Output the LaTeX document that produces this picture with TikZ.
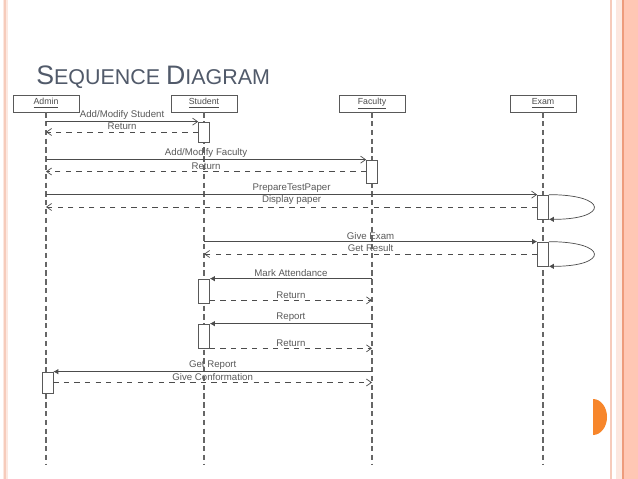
\documentclass[tikz,border=0pt]{standalone}
\usepackage{fontspec}
\setmainfont{Liberation Sans}
\usetikzlibrary{arrows.meta,positioning}
\definecolor{titlegray}{HTML}{515A6A}
\definecolor{framepink}{HTML}{F6CBBB}
\definecolor{framepale}{HTML}{FCE8E0}
\definecolor{framesalmon}{HTML}{FFC7B4}
\definecolor{frameorange}{HTML}{EE9C7C}
\definecolor{dotorange}{HTML}{F7862B}

\begin{document}
\begin{tikzpicture}[
    x=0.02cm, y=-0.02cm,
    participant/.style={draw=black!65, fill=white, minimum width=1.32cm, minimum height=0.34cm, inner sep=0pt, font=\fontsize{5}{6}\selectfont, text=black!70},
    act/.style={draw=black!65, fill=white, minimum width=0.22cm, inner sep=0pt},
    lifeline/.style={densely dashed, black!60, line width=0.6pt},
    call/.style={-{Straight Barb[length=1mm,width=1.4mm]}, black!70, line width=0.4pt},
    callf/.style={-{Latex[length=1mm,width=1.1mm]}, black!70, line width=0.4pt},
    reply/.style={call, dashed},
    lbl/.style={font=\fontsize{5.5}{6}\selectfont, text=black!65, above, inner sep=1pt}
  ]
    \fill[white] (0,0) rectangle (638,479);
    \useasboundingbox (0,0) rectangle (638,479);
    % slide frame
    \fill[framepale] (2.5,0) rectangle (8,479);
    \fill[framepink] (4.3,0) rectangle (6.3,479);
    \fill[framepink] (609.5,0) rectangle (612,479);
    \fill[framepale] (616,0) rectangle (622,479);
    \fill[frameorange] (622,0) rectangle (623.5,479);
    \fill[framesalmon] (623.5,0) rectangle (638,479);
    \fill[dotorange] (593,399) arc[start angle=90, end angle=-90, x radius=14, y radius=-18] -- cycle;

    \node[anchor=base west, inner sep=0pt, text=titlegray] (title) at (36,85)
      {{\fontsize{15.2}{18}\selectfont S}{\fontsize{12.2}{14}\selectfont EQUENCE }{\fontsize{15.2}{18}\selectfont D}{\fontsize{12.2}{14}\selectfont IAGRAM}};

    \node[participant] (admin) at (46,103.5) {\underline{Admin}};
    \node[participant] (student) at (204,103.5) {\underline{Student}};
    \node[participant] (faculty) at (372,103.5) {\underline{Faculty}};
    \node[participant] (exam) at (543,103.5) {\underline{Exam}};

    \foreach \p in {admin,student,faculty,exam}
      \draw[lifeline] (\p.south) -- ++(0,353);

    \node[act, minimum height=0.4cm] (sa1) at (204,132) {};
    \node[act, minimum height=0.46cm] (fa1) at (372,171.5) {};
    \node[act, minimum height=0.48cm] (ea1) at (543,207) {};
    \node[act, minimum height=0.48cm] (ea2) at (543,254) {};
    \node[act, minimum height=0.48cm] (sa2) at (204,291) {};
    \node[act, minimum height=0.48cm] (sa3) at (204,336) {};
    \node[act, minimum height=0.42cm] (aa1) at (47.5,382.5) {};

    \draw[call] (admin |- sa1.north) -- (sa1.north west) node[lbl, midway] {Add/Modify Student};
    \draw[reply] (sa1.west) -- (admin |- sa1.west) node[lbl, midway] {Return};

    \draw[call] (admin |- fa1.north) -- (fa1.north west) node[lbl, midway] {Add/Modify Faculty};
    \draw[reply] (fa1.west) -- (admin |- fa1.west) node[lbl, midway] {Return};

    \draw[call] (admin |- ea1.north) -- (ea1.north west) node[lbl, midway] {PrepareTestPaper};
    \draw[reply] (ea1.west) -- (admin |- ea1.west) node[lbl, midway] {Display paper};
    \draw[callf] (ea1.north east) .. controls +(60,0) and +(60,0) .. (ea1.south east);

    \draw[callf] (student |- ea2.north) -- (ea2.north west) node[lbl, midway] {Give Exam};
    \draw[reply] (ea2.west) -- (student |- ea2.west) node[lbl, midway] {Get Result};
    \draw[callf] (ea2.north east) .. controls +(60,0) and +(60,0) .. (ea2.south east);

    \draw[callf] (faculty |- sa2.north) -- (sa2.north east) node[lbl, midway] {Mark Attendance};
    \coordinate (r2) at ([yshift=1.7pt]sa2.south east);
    \draw[reply] (r2) -- (faculty |- r2) node[lbl, midway] {Return};

    \draw[callf] (faculty |- sa3.north) -- (sa3.north east) node[lbl, midway] {Report};
    \draw[reply] (sa3.south east) -- (faculty |- sa3.south east) node[lbl, midway] {Return};

    \draw[callf] (faculty |- aa1.north) -- (aa1.north east) node[lbl, midway] {Get Report};
    \draw[reply] (aa1.east) -- (faculty |- aa1.east) node[lbl, midway] {Give Conformation};
  \end{tikzpicture}
\end{document}
